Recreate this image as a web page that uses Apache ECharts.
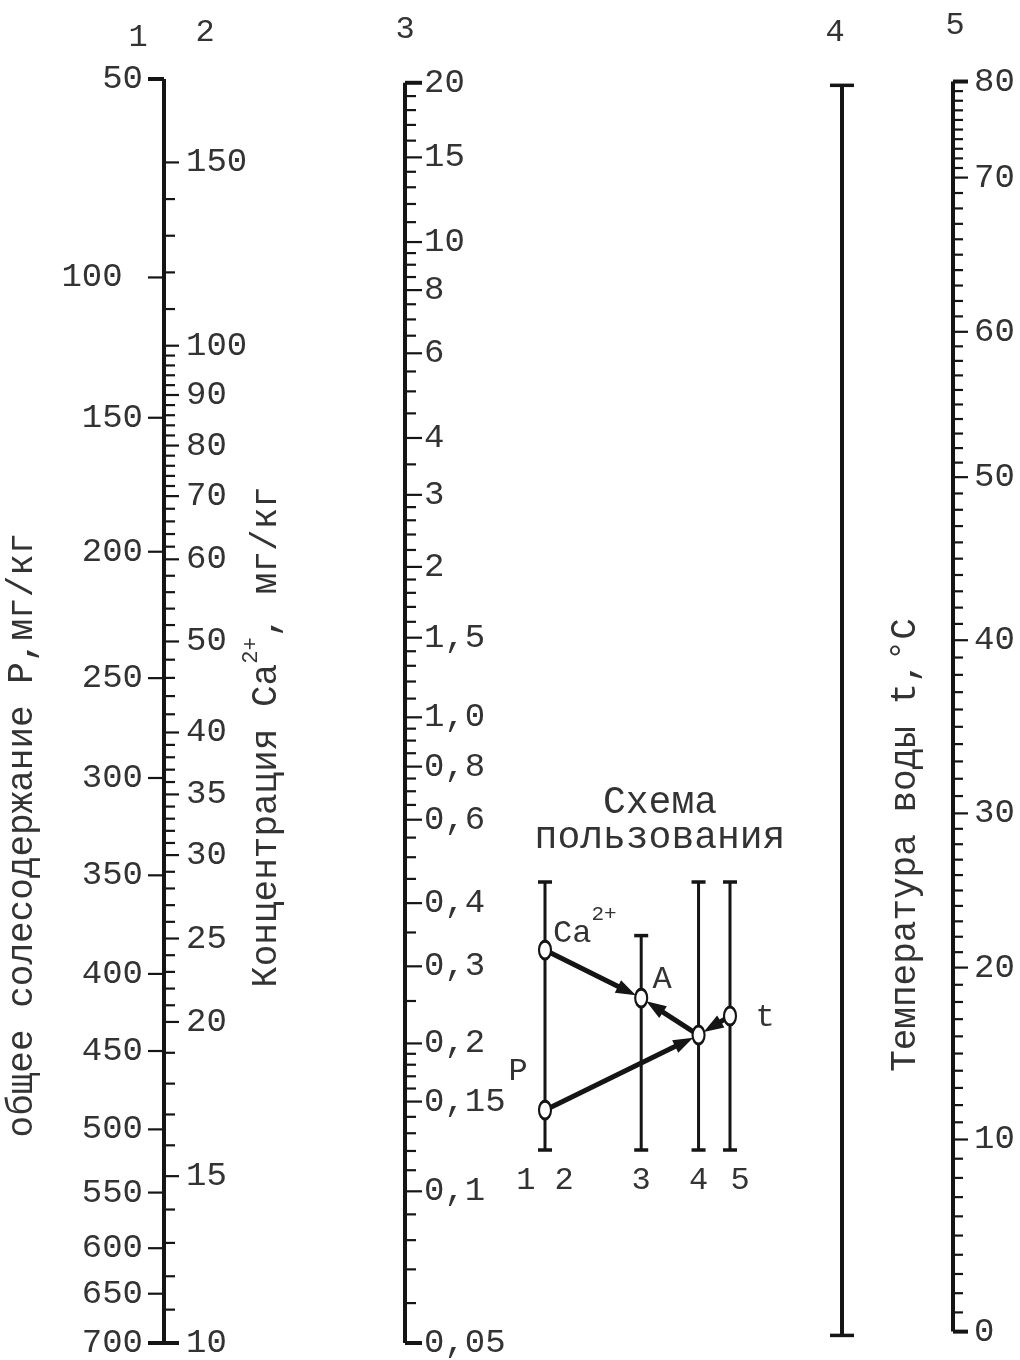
<!DOCTYPE html>
<html>
<head>
<meta charset="utf-8">
<script src="https://cdn.jsdelivr.net/npm/echarts@6/dist/echarts.min.js"></script>
<style>
  html, body { margin: 0; padding: 0; background: #ffffff; }
  #chart { width: 1020px; height: 1360px; }
</style>
</head>
<body>
<div id="chart"></div>
<script>
// ---- Nomogram scales -------------------------------------------------------
// Every scale is graduated on a common height scale: 0 = foot of the scales,
// 100 = head of scales 1-2.

// Scale 1: total dissolved solids P, mg/kg
const pMarks  = [50, 100, 150, 200, 250, 300, 350, 400, 450, 500, 550, 600, 650, 700];
const pLabels = ['50', '100 ', '150', '200', '250', '300', '350', '400', '450', '500', '550', '600', '650', '700'];
const pHeight = [100, 84.3, 73.2, 62.6, 52.6, 44.7, 37.0, 29.2, 23.1, 16.9, 11.9, 7.5, 3.9, 0];

// Scale 2: Ca2+ concentration, mg/kg
const caMarks  = [10, 15, 20, 25, 30, 35, 40, 50, 60, 70, 80, 90, 100, 150];
const caHeight = [0, 13.2, 25.4, 32.0, 38.6, 43.4, 48.3, 55.5, 62.0, 67.0, 71.0, 75.0, 78.9, 93.4];
const caSteps  = [[10, 40, 1], [40, 100, 2], [100, 150, 10]];

// Scale 3
const alkMarks  = [20, 15, 10, 8, 6, 4, 3, 2, 1.5, 1.0, 0.8, 0.6, 0.4, 0.3, 0.2, 0.15, 0.1, 0.05];
const alkLabels = ['20', '15', '10', '8', '6', '4', '3', '2', '1,5', '1,0', '0,8', '0,6', '0,4', '0,3', '0,2', '0,15', '0,1', '0,05'];
const alkHeight = [99.7, 93.8, 87.1, 83.3, 78.3, 71.6, 67.1, 61.4, 55.8, 49.5, 45.6, 41.4, 34.8, 29.8, 23.7, 19.1, 12.0, 0];
const alkSteps  = [[0.05, 0.2, 0.01], [0.2, 1, 0.05], [1, 2, 0.1], [2, 3, 0.2], [3, 10, 0.5], [10, 20, 1]];

// Scale 4: plain support line
const axis4Extent = [0.6, 99.5];

// Scale 5: water temperature t, °C
const tMarks  = [0, 10, 20, 30, 40, 50, 60, 70, 80];
const tHeight = [0.9, 16.1, 29.7, 41.9, 55.6, 68.5, 80.0, 92.2, 99.8];
const tSteps  = [[0, 80, 1]];

// Usage sketch (own unit square)
const schemeColLabels = ['1 2', '3', '4', '5'];
const schemeColX      = [0, 0.52, 0.83, 1];
const schemeColTop    = [1, 0.8, 1, 1];
const schemePointX    = [0, 0.52, 0.83, 1, 0];
const schemePointY    = [0.746, 0.567, 0.429, 0.5, 0.149];
const schemeArrows    = [[0, 1], [2, 1], [4, 2], [3, 2]];   // from point -> to point

// ---- Helpers ---------------------------------------------------------------
const FONT = '"Liberation Mono", "DejaVu Sans Mono", monospace';
const INK = '#151515';
const TXT = '#333333';

function graduation(marks, heights, useLog) {
  const pairs = marks.map((m, i) => [m, heights[i]]).sort((a, b) => a[0] - b[0]);
  const f = useLog ? Math.log : (x => x);
  return function (v) {
    for (let i = 0; i < pairs.length - 1; i++) {
      const [v0, h0] = pairs[i], [v1, h1] = pairs[i + 1];
      if (v >= v0 - 1e-9 && v <= v1 + 1e-9) {
        return h0 + (f(v) - f(v0)) / (f(v1) - f(v0)) * (h1 - h0);
      }
    }
    return null;
  };
}

function minorValues(steps, marks) {
  const out = [];
  steps.forEach(([a, b, s]) => {
    const n = Math.round((b - a) / s);
    for (let k = 1; k < n; k++) {
      const v = +(a + k * s).toFixed(5);
      if (!marks.some(m => Math.abs(m - v) < 1e-9)) out.push(v);
    }
  });
  return out;
}

// ticks: {h, len, w, label}
function buildTicks(marks, labels, heightOf, minors, major, minor, ends) {
  const ticks = [];
  marks.forEach((m, i) => {
    const h = heightOf(m);
    const isEnd = ends.some(e => Math.abs(e - h) < 0.05);
    ticks.push({ h, len: major, w: isEnd ? 4 : 2.2, label: labels[i] });
  });
  minors.forEach(v => ticks.push({ h: heightOf(v), len: minor, w: 2.2, label: '' }));
  return ticks;
}

function scaleSeries(gridIndex, ticks, side, gap, fontSize) {
  return {
    type: 'custom',
    coordinateSystem: 'cartesian2d',
    xAxisIndex: gridIndex,
    yAxisIndex: gridIndex,
    clip: false,
    silent: true,
    data: ticks.map(t => [0, t.h]),
    encode: { x: 0, y: 1 },
    renderItem(params, api) {
      const t = ticks[params.dataIndex];
      const p = api.coord([0, t.h]);
      const y = p[1];
      const children = [{
        type: 'line',
        shape: { x1: p[0], y1: y, x2: p[0] + side * t.len, y2: y },
        style: { stroke: INK, lineWidth: t.w }
      }];
      if (t.label) {
        children.push({
          type: 'text',
          style: {
            text: t.label,
            x: p[0] + side * (t.len + gap),
            y: y,
            align: side > 0 ? 'left' : 'right',
            verticalAlign: 'middle',
            font: fontSize + 'px ' + FONT,
            fill: TXT
          }
        });
      }
      return { type: 'group', children };
    }
  };
}

function axisLineSeries(gridIndex, lo, hi) {
  return {
    type: 'line',
    xAxisIndex: gridIndex,
    yAxisIndex: gridIndex,
    data: [[0, lo], [0, hi]],
    symbol: 'none',
    silent: true,
    clip: false,
    lineStyle: { color: INK, width: 4 }
  };
}

// ---- Build graduations -----------------------------------------------------
const pH   = graduation(pMarks, pHeight, false);
const caH  = graduation(caMarks, caHeight, false);
const alkH = graduation(alkMarks, alkHeight, true);
const tH   = graduation(tMarks, tHeight, false);

const pTicks   = buildTicks(pMarks, pLabels, pH, [], 16, 10, [0, 100]);
const caTicks  = buildTicks(caMarks, caMarks.map(String), caH, minorValues(caSteps, caMarks), 15, 11, [0]);
const alkTicks = buildTicks(alkMarks, alkLabels, alkH, minorValues(alkSteps, alkMarks), 17, 11, [0, 99.7]);
const tTicks   = buildTicks(tMarks, tMarks.map(String), tH, minorValues(tSteps, tMarks), 15, 10, [0.9, 99.8]);
const axis4Caps = axis4Extent.map(h => ({ h, len: 12, w: 3.5, label: '' }));

// ---- Layout ----------------------------------------------------------------
const scaleGrid = left => ({ left: left, width: 1, top: 79, bottom: 17 });
const grids = [scaleGrid(164), scaleGrid(405), scaleGrid(842), scaleGrid(953),
               { left: 545, width: 185, top: 882, height: 268 }];
const xAxes = grids.map((g, i) => ({ gridIndex: i, type: 'value', min: 0, max: 1, show: false }));
const yAxes = grids.map((g, i) => ({ gridIndex: i, type: 'value', min: 0, max: i === 4 ? 1 : 100, show: false }));

// ---- Usage sketch series ---------------------------------------------------
const schemeColumns = {
  type: 'custom', coordinateSystem: 'cartesian2d', xAxisIndex: 4, yAxisIndex: 4,
  clip: false, silent: true,
  data: schemeColX.map((x, i) => [x, schemeColTop[i]]),
  renderItem(params, api) {
    const i = params.dataIndex;
    const top = api.coord([schemeColX[i], schemeColTop[i]]);
    const bot = api.coord([schemeColX[i], 0]);
    const cap = 7;
    return {
      type: 'group',
      children: [
        { type: 'line', shape: { x1: top[0], y1: top[1], x2: bot[0], y2: bot[1] }, style: { stroke: INK, lineWidth: 3 } },
        { type: 'line', shape: { x1: top[0] - cap, y1: top[1], x2: top[0] + cap, y2: top[1] }, style: { stroke: INK, lineWidth: 3.5 } },
        { type: 'line', shape: { x1: bot[0] - cap, y1: bot[1], x2: bot[0] + cap, y2: bot[1] }, style: { stroke: INK, lineWidth: 3.5 } },
        { type: 'text', style: { text: schemeColLabels[i], x: bot[0] + (i === 3 ? 10 : 0), y: bot[1] + 31, align: 'center', verticalAlign: 'middle', font: '32px ' + FONT, fill: TXT } }
      ]
    };
  }
};

const schemeArrowSeries = {
  type: 'custom', coordinateSystem: 'cartesian2d', xAxisIndex: 4, yAxisIndex: 4,
  clip: false, silent: true,
  data: schemeArrows.map(a => [schemePointX[a[0]], schemePointY[a[0]], schemePointX[a[1]], schemePointY[a[1]]]),
  renderItem(params, api) {
    const a = schemeArrows[params.dataIndex];
    const p0 = api.coord([schemePointX[a[0]], schemePointY[a[0]]]);
    const p1 = api.coord([schemePointX[a[1]], schemePointY[a[1]]]);
    const dx = p1[0] - p0[0], dy = p1[1] - p0[1];
    const L = Math.sqrt(dx * dx + dy * dy), ux = dx / L, uy = dy / L;
    const tip = [p1[0] - ux * 6, p1[1] - uy * 6];
    const base = [tip[0] - ux * 20, tip[1] - uy * 20];
    const half = 7;
    return {
      type: 'group',
      children: [
        { type: 'line', shape: { x1: p0[0] + ux * 6, y1: p0[1] + uy * 6, x2: base[0] + ux * 2, y2: base[1] + uy * 2 }, style: { stroke: INK, lineWidth: 5 } },
        { type: 'polygon', shape: { points: [tip, [base[0] - uy * half, base[1] + ux * half], [base[0] + uy * half, base[1] - ux * half]] }, style: { fill: INK } }
      ]
    };
  }
};

const schemePoints = {
  type: 'scatter', xAxisIndex: 4, yAxisIndex: 4, silent: true, z: 5,
  data: schemePointX.map((x, i) => [x, schemePointY[i]]),
  symbol: 'circle', symbolSize: [12, 18],
  itemStyle: { color: '#ffffff', borderColor: INK, borderWidth: 2.6, opacity: 1 }
};

// ---- Texts ------------------------------------------------------------------
const titleFont = '36px ' + FONT;
const numFont = '32px ' + FONT;
const graphics = [
  // scale numbers
  { type: 'text', x: 138, y: 38, style: { text: '1', font: numFont, fill: TXT, align: 'center', verticalAlign: 'middle' } },
  { type: 'text', x: 205, y: 33, style: { text: '2', font: numFont, fill: TXT, align: 'center', verticalAlign: 'middle' } },
  { type: 'text', x: 405, y: 30, style: { text: '3', font: numFont, fill: TXT, align: 'center', verticalAlign: 'middle' } },
  { type: 'text', x: 835, y: 33, style: { text: '4', font: numFont, fill: TXT, align: 'center', verticalAlign: 'middle' } },
  { type: 'text', x: 955, y: 26, style: { text: '5', font: numFont, fill: TXT, align: 'center', verticalAlign: 'middle' } },
  // scale titles
  { type: 'text', x: 22, y: 835, rotation: Math.PI / 2,
    style: { text: 'общее солесодержание P,мг/кг', font: titleFont, fill: TXT, align: 'center', verticalAlign: 'middle' } },
  { type: 'text', x: 262, y: 737, rotation: Math.PI / 2,
    style: {
      text: '{n|Концентрация Ca}{s|2+}{n|, мг/кг}',
      align: 'center', verticalAlign: 'middle',
      rich: {
        n: { font: titleFont, fill: TXT, lineHeight: 44, verticalAlign: 'bottom' },
        s: { fontFamily: FONT, fontSize: 22, fill: TXT, lineHeight: 44, verticalAlign: 'top' }
      }
    } },
  { type: 'text', x: 905, y: 845, rotation: Math.PI / 2,
    style: { text: 'Температура воды t,°C', font: titleFont, fill: TXT, align: 'center', verticalAlign: 'middle' } },
  // usage sketch captions
  { type: 'text', x: 660, y: 803, style: { text: 'Схема', font: '38px ' + FONT, fill: TXT, align: 'center', verticalAlign: 'middle' } },
  { type: 'text', x: 660, y: 838, style: { text: 'пользования', font: '38px ' + FONT, fill: TXT, align: 'center', verticalAlign: 'middle' } },
  { type: 'text', x: 553, y: 927,
    style: { text: '{n|Ca}{s|2+}', align: 'left', verticalAlign: 'middle',
      rich: { n: { font: '32px ' + FONT, fill: TXT, lineHeight: 46, verticalAlign: 'bottom' },
              s: { fontFamily: FONT, fontSize: 21, fill: TXT, lineHeight: 46, verticalAlign: 'top' } } } },
  { type: 'text', x: 662, y: 980, style: { text: 'A', font: '32px ' + FONT, fill: TXT, align: 'center', verticalAlign: 'middle' } },
  { type: 'text', x: 765, y: 1018, style: { text: 't', font: '32px ' + FONT, fill: TXT, align: 'center', verticalAlign: 'middle' } },
  { type: 'text', x: 518, y: 1072, style: { text: 'P', font: '32px ' + FONT, fill: TXT, align: 'center', verticalAlign: 'middle' } }
];

// ---- Chart -------------------------------------------------------------------
const chart = echarts.init(document.getElementById('chart'), null, { renderer: 'canvas' });
chart.setOption({
  backgroundColor: '#ffffff',
  animation: false,
  grid: grids,
  xAxis: xAxes,
  yAxis: yAxes,
  graphic: graphics,
  series: [
    axisLineSeries(0, 0, 100),
    scaleSeries(0, pTicks, -1, 5, 34),
    scaleSeries(0, caTicks, 1, 7, 34),
    axisLineSeries(1, 0, 99.7),
    scaleSeries(1, alkTicks, 1, 2, 34),
    axisLineSeries(2, axis4Extent[0], axis4Extent[1]),
    scaleSeries(2, axis4Caps, 1, 0, 34),
    scaleSeries(2, axis4Caps, -1, 0, 34),
    axisLineSeries(3, 0.9, 99.8),
    scaleSeries(3, tTicks, 1, 6, 34),
    schemeColumns,
    schemeArrowSeries,
    schemePoints
  ]
});
</script>
</body>
</html>
